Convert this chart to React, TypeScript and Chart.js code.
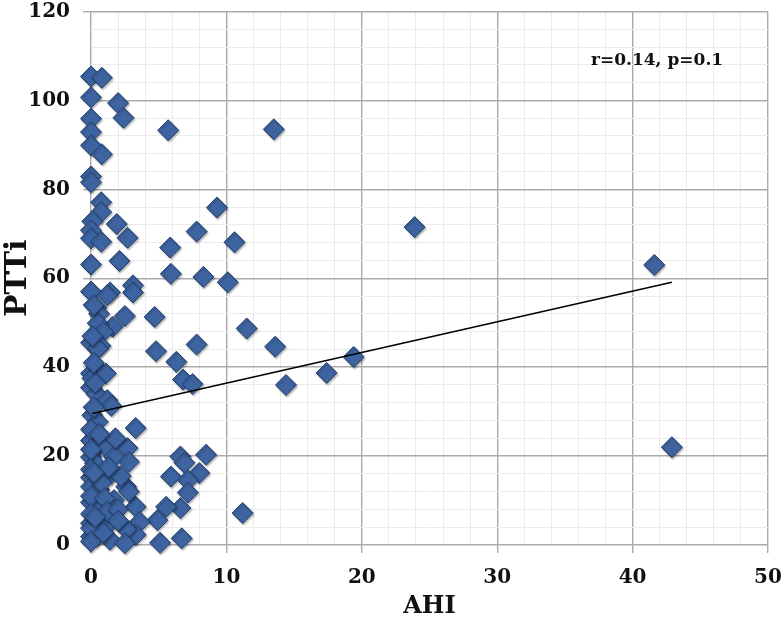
import React, { useEffect, useRef } from 'react';
import { Chart, registerables } from 'chart.js';

Chart.register(...registerables);

// AHI (x) and PTTi (y) values
const ahiValues = [
  41.6, 42.9, 23.9, 13.5, 5.7, 19.4, 17.4, 14.4, 13.6, 11.5,
  11.2, 9.3, 7.8, 5.85, 10.6, 5.9, 8.3, 10.1, 4.7, 4.8,
  7.8, 6.3, 6.8, 7.5, 3.3, 8.5, 6.6, 6.9, 5.9, 8.0,
  7.15, 7.15, 6.6, 5.55, 4.9, 5.1, 6.7, 3.3, 3.6, 3.3,
  0, 0.8, 0, 2.0, 2.4, 0, 0, 0, 0.8, 0,
  0, 0.75, 0.75, 0.1, 1.9, 0, 0, 0.75, 2.7, 2.1,
  0, 0, 1.4, 3.1, 3.1, 1.2, 0.4, 0.6, 2.5, 1.6,
  0.5, 0.9, 0, 0.7, 0.5, 0, 0.6, 0.1, 1.1, 0,
  0.4, 1.2, 1.5, 0.1, 0.5, 0, 0.5, 1.1, 2.7, 1.7,
  2.8, 0, 0.3, 1.5, 0, 0, 0.6, 2.6, 2.8, 0,
  0.5, 1.7, 0, 1.4, 2.6, 0, 0.4, 1.4, 2.5, 0,
  0, 0, 0, 0, 0, 0, 0.2, 0.3, 0.2, 0.1,
  0.2, 0.8, 1.0, 1.2, 2.0, 2.2, 1.8, 0.9, 2.0, 0.3,
  1.3, 0.6, 0.2,
];
const pttiValues = [
  63, 22, 71.5, 93.5, 93.3, 42.3, 38.7, 36, 44.6, 48.7,
  7.2, 75.9, 70.5, 66.9, 68.1, 61, 60.3, 59.1, 51.3, 43.6,
  45.1, 41.2, 37.2, 36.2, 26.3, 20.3, 19.9, 18.5, 15.4, 16.2,
  14.6, 11.8, 8.3, 8.6, 5.6, 0.5, 1.5, 8.6, 5.2, 2.3,
  105.4, 105.1, 100.7, 99.4, 96.1, 95.9, 92.9, 89.9, 87.9, 82.9,
  81.6, 77.1, 74.9, 72.8, 72.2, 70.8, 69, 68.2, 69.1, 63.9,
  63.1, 57, 56.8, 58.4, 56.8, 56.2, 53.4, 52, 51.5, 49.1,
  49.9, 47.9, 45.5, 44.8, 44.2, 38.6, 39.3, 37.5, 38.6, 35.4,
  34, 32.6, 31.3, 29.2, 27.7, 23.5, 22.1, 22.1, 21.8, 19.8,
  18.7, 19.8, 18.4, 16.1, 15.2, 13.1, 12.4, 13.1, 12, 9.6,
  8.6, 10.1, 4.9, 5, 3.6, 1.9, 1.9, 1.2, 0.4, 3.8,
  26, 21.5, 17, 11, 7, 0.8, 31, 36.5, 41, 47,
  54, 14, 10.5, 7.5, 8, 15.5, 24, 2.8, 5.5, 6.3,
  17.5, 25, 16.3,
];

// Linear trend line end points
const trendAhi = [0.1, 42.9];
const trendPtti = [29.6, 59.1];

const xLabelStep = 10;
const yLabelStep = 20;
const annotationText = 'r=0.14, p=0.1';
const xTitle = 'AHI';
const yTitle = 'PTTi';

const FONT = '"DejaVu Serif", serif';

export default function App() {
  const canvasRef = useRef<HTMLCanvasElement | null>(null);

  useEffect(() => {
    if (!canvasRef.current) return;

    const shadowPlugin = {
      id: 'markerShadow',
      beforeDatasetDraw(chart: any, args: any) {
        if (args.index !== 1) return;
        const ctx = chart.ctx;
        ctx.save();
        ctx.shadowColor = 'rgba(0,0,0,0.3)';
        ctx.shadowBlur = 2;
        ctx.shadowOffsetX = 1;
        ctx.shadowOffsetY = 1.5;
      },
      afterDatasetDraw(chart: any, args: any) {
        if (args.index !== 1) return;
        chart.ctx.restore();
      },
    };

    const annotationPlugin = {
      id: 'statsText',
      afterDraw(chart: any) {
        const { ctx, chartArea } = chart;
        ctx.save();
        ctx.font = `bold 17px ${FONT}`;
        ctx.fillStyle = '#111';
        ctx.textAlign = 'left';
        ctx.textBaseline = 'alphabetic';
        ctx.fillText(annotationText, chartArea.right - 177, chartArea.top + 53);
        ctx.restore();
      },
    };

    const chart = new Chart(canvasRef.current, {
      type: 'scatter',
      data: {
        datasets: [
          {
            type: 'line',
            label: 'trend',
            data: trendAhi.map((x, i) => ({ x, y: trendPtti[i] })),
            borderColor: '#000',
            borderWidth: 1.5,
            pointRadius: 0,
            fill: false,
            order: 0,
          },
          {
            type: 'scatter',
            label: 'PTTi',
            data: ahiValues.map((x, i) => ({ x, y: pttiValues[i] })),
            pointStyle: 'rectRot',
            pointRadius: 10.5,
            backgroundColor: '#3D63A0',
            borderColor: '#213E6A',
            borderWidth: 1,
            order: 1,
          },
        ],
      },
      options: {
        responsive: true,
        maintainAspectRatio: false,
        animation: false,
        clip: false as any,
        layout: { padding: { left: 0, right: 16, top: 11, bottom: 0 } },
        plugins: {
          legend: { display: false },
          tooltip: { enabled: false },
        },
        scales: {
          x: {
            type: 'linear',
            min: 0,
            max: 50,
            afterFit: (scale: any) => {
              scale.height = 76;
              scale.paddingLeft = 0;
              scale.paddingRight = 0;
              scale.paddingTop = 0;
              scale.paddingBottom = 0;
            },
            ticks: {
              stepSize: 2,
              autoSkip: false,
              maxRotation: 0,
              padding: 13,
              color: '#111',
              font: { family: FONT, size: 20, weight: 'bold' },
              callback: (v: any) => (Number(v) % xLabelStep === 0 ? String(v) : ''),
            },
            grid: {
              color: (c: any) => (c.tick && c.tick.value % xLabelStep === 0 ? '#ababab' : '#ebebeb'),
              lineWidth: (c: any) => (c.tick && c.tick.value % xLabelStep === 0 ? 1.4 : 1),
              tickColor: (c: any) => (c.tick && c.tick.value % xLabelStep === 0 ? '#ababab' : 'rgba(0,0,0,0)'),
              tickLength: 8,
              drawTicks: true,
            },
            border: { display: false },
            title: {
              display: true,
              text: xTitle,
              color: '#111',
              font: { family: FONT, size: 24, weight: 'bold' },
              padding: { top: 0, bottom: 0 },
            },
          },
          y: {
            type: 'linear',
            min: 0,
            max: 120,
            afterFit: (scale: any) => {
              scale.width = 91;
              scale.paddingLeft = 0;
              scale.paddingRight = 0;
              scale.paddingTop = 0;
              scale.paddingBottom = 0;
            },
            ticks: {
              stepSize: 4,
              autoSkip: false,
              padding: 13,
              color: '#111',
              font: { family: FONT, size: 20, weight: 'bold' },
              callback: (v: any) => (Number(v) % yLabelStep === 0 ? String(v) : ''),
            },
            grid: {
              color: (c: any) => (c.tick && c.tick.value % yLabelStep === 0 ? '#ababab' : '#ebebeb'),
              lineWidth: (c: any) => (c.tick && c.tick.value % yLabelStep === 0 ? 1.4 : 1),
              tickColor: (c: any) => (c.tick && c.tick.value % yLabelStep === 0 ? '#ababab' : 'rgba(0,0,0,0)'),
              tickLength: 8,
              drawTicks: true,
            },
            border: { display: false },
            title: {
              display: true,
              text: yTitle,
              color: '#111',
              font: { family: FONT, size: 30, weight: 'bold' },
              padding: { top: 0, bottom: 0 },
            },
          },
        },
      },
      plugins: [shadowPlugin, annotationPlugin],
    });

    return () => {
      chart.destroy();
    };
  }, []);

  return (
    <div style={{ position: 'fixed', left: 0, top: 0, width: 784, height: 621, background: '#fff' }}>
      <canvas ref={canvasRef} />
    </div>
  );
}
